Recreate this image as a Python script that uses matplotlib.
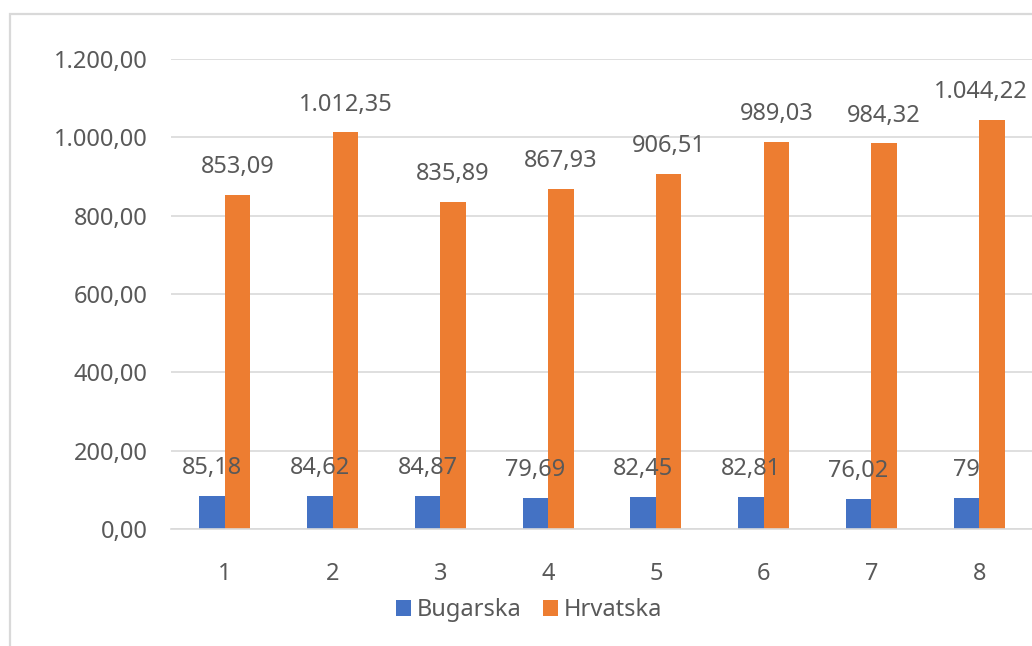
import numpy as np
import matplotlib.pyplot as plt
from matplotlib.patches import Rectangle

# podaci
categories = ['1', '2', '3', '4', '5', '6', '7', '8']
bugarska = [85.18, 84.62, 84.87, 79.69, 82.45, 82.81, 76.02, 79.0]
hrvatska = [853.09, 1012.35, 835.89, 867.93, 906.51, 989.03, 984.32, 1044.22]
bug_labels = ['85,18', '84,62', '84,87', '79,69', '82,45', '82,81', '76,02', '79']
y_ticks = [0, 200, 400, 600, 800, 1000, 1200]

BLUE = '#4472C4'
ORANGE = '#ED7D31'
TXT = '#595959'
GRID = '#D9D9D9'
FS = 17

plt.rcParams['font.family'] = ['Noto Sans', 'DejaVu Sans']


def hr_fmt(v):
    # hrvatski format: 1.012,35
    s = '{:,.2f}'.format(v)
    return s.replace(',', 'X').replace('.', ',').replace('X', '.')


fig = plt.figure(figsize=(10.32, 6.46), dpi=100)
fig.patch.set_facecolor('white')

# okvir grafikona (desno i dolje odrezan)
fig.patches.append(Rectangle((10 / 1032, -0.1), 1.2, 0.1 + (646 - 14) / 646,
                             transform=fig.transFigure, fill=False,
                             edgecolor=GRID, linewidth=1.6))

ax = fig.add_axes([171 / 1032, 117 / 646, 862 / 1032, 470 / 646])

x = np.arange(len(categories))
w = 0.237
b1 = ax.bar(x - w / 2, bugarska, w, color=BLUE, label='Bugarska', zorder=2)
b2 = ax.bar(x + w / 2, hrvatska, w, color=ORANGE, label='Hrvatska', zorder=2)

labels = []
for xi, v, lab in zip(x, bugarska, bug_labels):
    labels.append(ax.annotate(lab, (xi - w / 2, v), xytext=(0, 20), textcoords='offset points',
                              ha='center', va='center', fontsize=FS, color=TXT, zorder=3))
for xi, v in zip(x, hrvatska):
    labels.append(ax.annotate(hr_fmt(v), (xi + w / 2, v), xytext=(0, 20), textcoords='offset points',
                              ha='center', va='center', fontsize=FS, color=TXT, zorder=3))

ax.set_xlim(-0.5, len(categories) - 0.5)
ax.set_ylim(0, 1200)
ax.set_yticks(y_ticks)
ax.set_yticklabels([hr_fmt(t) for t in y_ticks])
ax.set_xticks(x)
ax.set_xticklabels(categories)
ax.tick_params(axis='both', length=0, labelsize=FS, labelcolor=TXT)
ax.tick_params(axis='y', pad=17)
ax.tick_params(axis='x', pad=24)

ax.grid(axis='y', color=GRID, linewidth=1.2, zorder=0)
ax.set_axisbelow(True)
for s in ['top', 'right', 'left']:
    ax.spines[s].set_visible(False)
ax.spines['bottom'].set_color(GRID)
ax.spines['bottom'].set_linewidth(1.2)

fig.legend(handles=[b1, b2], loc='center', bbox_to_anchor=(529 / 1032, 1 - 610 / 646),
           ncol=2, frameon=False, fontsize=FS, labelcolor=TXT,
           handlelength=0.65, handleheight=0.65, handletextpad=0.25, columnspacing=0.9)

# kao u Excelu: oznaka koja izlazi van slike pomakne se ulijevo
fig.canvas.draw()
r = fig.canvas.get_renderer()
for t in labels:
    bb = t.get_window_extent(r)
    over = bb.x1 - (fig.bbox.width - 4)
    if over > 0:
        dx, dy = t.xyann
        t.xyann = (dx - over * 72 / fig.dpi, dy)

fig.savefig('out.png', dpi=100)
